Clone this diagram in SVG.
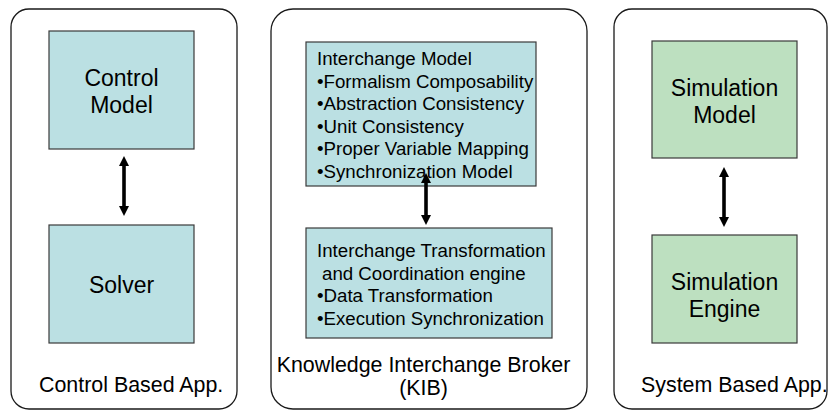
<svg xmlns="http://www.w3.org/2000/svg" width="829" height="411" viewBox="0 0 829 411">
  <defs>
    <style>
      .panel { fill: #ffffff; stroke: #1a1a1a; stroke-width: 1.3; }
      .box { stroke: #3a3a3a; stroke-width: 1.2; }
      .blue { fill: #BBE0E3; }
      .green { fill: #BDE0C0; }
      text { font-family: "Liberation Sans", Arial, Helvetica, sans-serif; fill: #000; }
      .big { font-size: 23px; text-anchor: middle; }
      .list { font-size: 18.7px; }
      .caption { font-size: 21.4px; }
      .link { stroke: #000; stroke-width: 3.6; fill: none; marker-start: url(#head); marker-end: url(#head); }
    </style>
    <marker id="head" viewBox="0 0 10 10" refX="2" refY="5" markerWidth="10" markerHeight="10" markerUnits="userSpaceOnUse" orient="auto-start-reverse">
      <path d="M0,0 L10,5 L0,10 z" fill="#000"/>
    </marker>
  </defs>

  <rect width="829" height="411" fill="#ffffff"/>

  <!-- Control based application -->
  <g id="control-app">
    <rect class="panel" x="11" y="9" width="226" height="400" rx="18" ry="18"/>
    <text class="caption" x="39" y="392">Control Based App.</text>
  </g>
  <g id="control-model">
    <rect class="box blue" x="49" y="31" width="145" height="118"/>
    <text class="big" x="121.5" y="86">Control</text>
    <text class="big" x="121.5" y="113">Model</text>
  </g>
  <g id="solver">
    <rect class="box blue" x="49" y="225" width="145" height="118"/>
    <text class="big" x="121.5" y="293">Solver</text>
  </g>

  <!-- Knowledge Interchange Broker -->
  <g id="kib">
    <rect class="panel" x="271" y="9" width="316" height="400" rx="22" ry="22"/>
    <text class="caption" x="423.5" y="372" text-anchor="middle">Knowledge Interchange Broker</text>
    <text class="caption" x="423.5" y="395" text-anchor="middle">(KIB)</text>
  </g>
  <g id="interchange-model">
    <rect class="box blue" x="306" y="42" width="230" height="144"/>
    <text class="list" x="317" y="65">Interchange Model</text>
    <text class="list" x="317" y="87.5">•Formalism Composability</text>
    <text class="list" x="317" y="110">•Abstraction Consistency</text>
    <text class="list" x="317" y="132.5">•Unit Consistency</text>
    <text class="list" x="317" y="155">•Proper Variable Mapping</text>
    <text class="list" x="317" y="177.5">•Synchronization Model</text>
  </g>
  <g id="transformation-engine">
    <rect class="box blue" x="306" y="228" width="246" height="110"/>
    <text class="list" x="317" y="257">Interchange Transformation</text>
    <text class="list" x="322" y="279.5">and Coordination engine</text>
    <text class="list" x="317" y="302">•Data Transformation</text>
    <text class="list" x="317" y="324.5">•Execution Synchronization</text>
  </g>

  <!-- System based application -->
  <g id="system-app">
    <rect class="panel" x="614" y="9" width="213" height="400" rx="18" ry="18"/>
    <text class="caption" x="641" y="392">System Based App.</text>
  </g>
  <g id="simulation-model">
    <rect class="box green" x="652" y="41" width="145" height="117"/>
    <text class="big" x="724.5" y="96">Simulation</text>
    <text class="big" x="724.5" y="123">Model</text>
  </g>
  <g id="simulation-engine">
    <rect class="box green" x="652" y="235" width="145" height="108"/>
    <text class="big" x="724.5" y="290">Simulation</text>
    <text class="big" x="724.5" y="317">Engine</text>
  </g>

  <!-- Bidirectional links -->
  <g id="connectors">
    <line class="link" x1="124" y1="164" x2="124" y2="208"/>
    <line class="link" x1="426" y1="181" x2="426" y2="217"/>
    <line class="link" x1="724" y1="175" x2="724" y2="219"/>
  </g>
</svg>
